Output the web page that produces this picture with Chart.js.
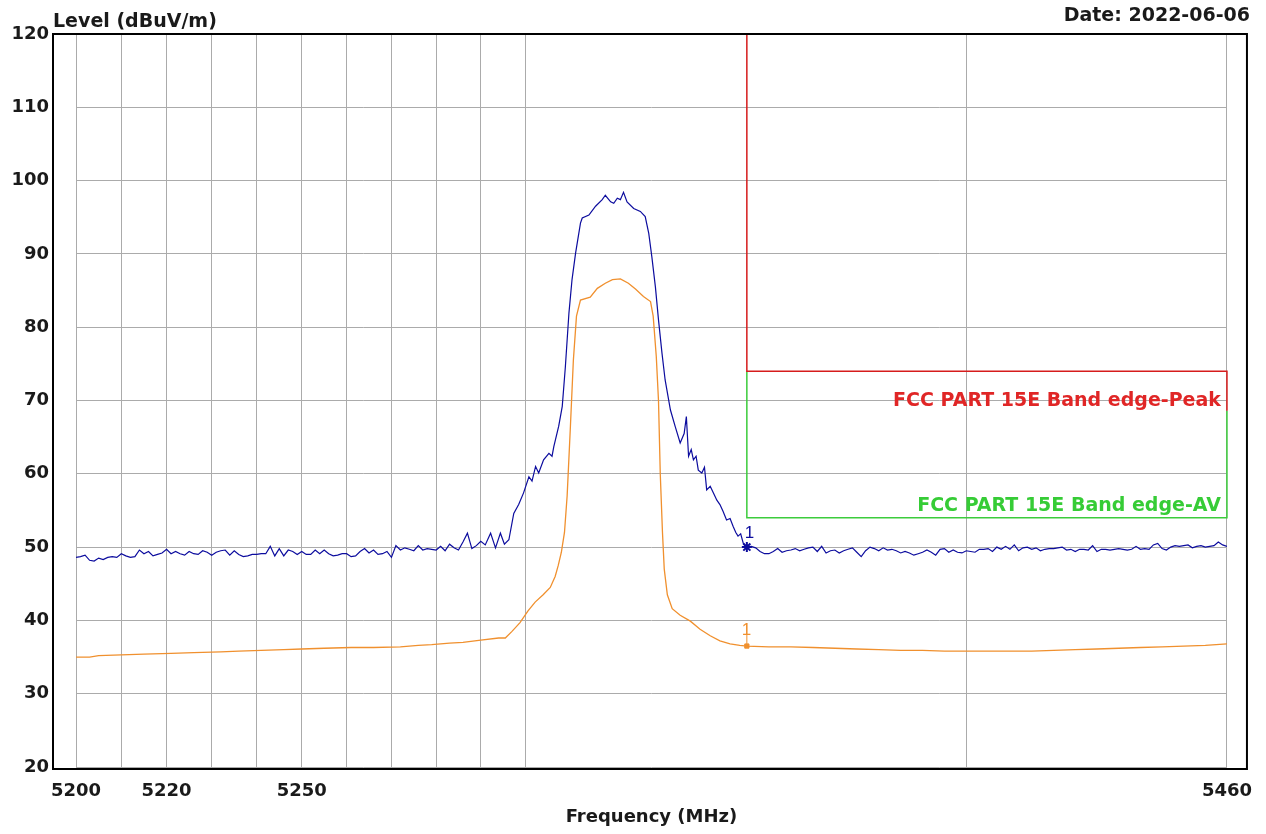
<!DOCTYPE html>
<html>
<head>
<meta charset="utf-8">
<title>Band edge scan</title>
<script src="https://cdn.jsdelivr.net/npm/chart.js@4.4.0/dist/chart.umd.min.js"></script>
<style>
  html, body { margin: 0; padding: 0; background: #fff; }
  #wrap { width: 1266px; height: 834px; }
</style>
</head>
<body>
<div id="wrap"><canvas id="chart"></canvas></div>
<script>
// axis ticks (MHz, log scale) and labels
const xGridTicks = [5200, 5210, 5220, 5230, 5240, 5250, 5260, 5270, 5280, 5290, 5300, 5400, 5460];
const xLabelTicks = [5200, 5220, 5250, 5460];
const yTitle = 'Level (dBuV/m)';
const xTitle = 'Frequency (MHz)';
const dateText = 'Date: 2022-06-06';

// peak detector trace, below the carrier (1 MHz steps)
const lowFreq = [
  5200, 5201, 5202, 5203, 5204, 5205, 5206, 5207, 5208, 5209,
  5210, 5211, 5212, 5213, 5214, 5215, 5216, 5217, 5218, 5219,
  5220, 5221, 5222, 5223, 5224, 5225, 5226, 5227, 5228, 5229,
  5230, 5231, 5232, 5233, 5234, 5235, 5236, 5237, 5238, 5239,
  5240, 5241, 5242, 5243, 5244, 5245, 5246, 5247, 5248, 5249,
  5250, 5251, 5252, 5253, 5254, 5255, 5256, 5257, 5258, 5259,
  5260, 5261, 5262, 5263, 5264, 5265, 5266, 5267, 5268, 5269,
  5270, 5271, 5272, 5273, 5274, 5275, 5276, 5277, 5278, 5279,
  5280, 5281, 5282, 5283, 5284, 5285, 5286, 5287, 5288, 5289
];
const lowPeak = [
  48.6, 48.7, 48.9, 48.2, 48.1, 48.5, 48.3, 48.6, 48.7, 48.6,
  49.1, 48.8, 48.6, 48.7, 49.6, 49.1, 49.4, 48.8, 49.0, 49.2,
  49.7, 49.1, 49.4, 49.1, 48.9, 49.4, 49.1, 49.0, 49.5, 49.3,
  48.9, 49.3, 49.5, 49.6, 48.9, 49.5, 49.0, 48.7, 48.8, 49.0,
  49.0, 49.1, 49.1, 50.1, 48.8, 49.8, 48.8, 49.6, 49.4, 49.0,
  49.4, 49.0, 49.0, 49.6, 49.1, 49.6, 49.1, 48.8, 48.9, 49.1,
  49.1, 48.7, 48.8, 49.4, 49.8, 49.2, 49.6, 49.0, 49.1, 49.4,
  48.6, 50.2, 49.6, 49.9, 49.7, 49.5, 50.2, 49.6, 49.8, 49.7,
  49.6, 50.1, 49.5, 50.4, 49.9, 49.6, 50.7, 51.9, 49.8, 50.2
];

// peak detector trace, over the carrier
const carrierFreq = [
  5290.0, 5291.0, 5292.2, 5293.3, 5294.4, 5295.3, 5296.3, 5297.4, 5298.5, 5299.6,
  5300.8, 5301.5, 5302.3, 5303.0, 5304.1, 5305.3, 5306.0, 5306.4, 5307.5, 5308.3,
  5309.0, 5309.8, 5310.5, 5311.3, 5312.4, 5312.8, 5314.3, 5315.8, 5317.3, 5318.0,
  5319.2, 5319.9, 5320.7, 5321.4, 5322.1, 5322.9, 5324.4, 5325.9, 5327.0, 5327.8,
  5328.5, 5329.3, 5330.0, 5330.8, 5331.5, 5332.7, 5333.8, 5334.9, 5335.8, 5336.3,
  5336.8, 5337.4, 5337.9, 5338.5, 5339.0, 5339.8, 5340.4, 5340.9, 5341.7, 5342.4,
  5343.2, 5343.9, 5344.6, 5345.4, 5346.2, 5346.9, 5347.5, 5348.0, 5348.6, 5349.2,
  5350.0
];
const carrierPeak = [
  50.8, 50.3, 51.9, 49.9, 51.9, 50.4, 51.0, 54.6, 55.8, 57.4,
  59.6, 59.0, 61.0, 60.1, 61.9, 62.8, 62.4, 63.7, 66.5, 69.2,
  74.6, 81.9, 86.5, 90.1, 94.2, 94.9, 95.3, 96.5, 97.4, 98.0,
  97.1, 96.9, 97.6, 97.4, 98.4, 97.1, 96.2, 95.8, 95.1, 92.8,
  89.6, 85.5, 81.0, 76.4, 72.8, 68.7, 66.4, 64.2, 65.5, 67.8,
  62.4, 63.3, 61.9, 62.4, 60.5, 60.1, 60.9, 57.8, 58.3, 57.4,
  56.4, 55.8, 54.9, 53.7, 53.9, 52.8, 52.0, 51.5, 51.8, 50.5,
  50.0
];

// peak detector trace, above the band edge (1 MHz steps)
const highFreq = [
  5351, 5352, 5353, 5354, 5355, 5356, 5357, 5358, 5359, 5360,
  5361, 5362, 5363, 5364, 5365, 5366, 5367, 5368, 5369, 5370,
  5371, 5372, 5373, 5374, 5375, 5376, 5377, 5378, 5379, 5380,
  5381, 5382, 5383, 5384, 5385, 5386, 5387, 5388, 5389, 5390,
  5391, 5392, 5393, 5394, 5395, 5396, 5397, 5398, 5399, 5400,
  5401, 5402, 5403, 5404, 5405, 5406, 5407, 5408, 5409, 5410,
  5411, 5412, 5413, 5414, 5415, 5416, 5417, 5418, 5419, 5420,
  5421, 5422, 5423, 5424, 5425, 5426, 5427, 5428, 5429, 5430,
  5431, 5432, 5433, 5434, 5435, 5436, 5437, 5438, 5439, 5440,
  5441, 5442, 5443, 5444, 5445, 5446, 5447, 5448, 5449, 5450,
  5451, 5452, 5453, 5454, 5455, 5456, 5457, 5458, 5459, 5460
];
const highPeak = [
  50.1, 49.9, 49.4, 49.1, 49.1, 49.4, 49.8, 49.3, 49.5, 49.6,
  49.8, 49.5, 49.7, 49.9, 50.0, 49.4, 50.1, 49.2, 49.5, 49.6,
  49.2, 49.5, 49.7, 49.9, 49.3, 48.7, 49.5, 50.0, 49.8, 49.5,
  49.9, 49.6, 49.7, 49.5, 49.2, 49.4, 49.2, 48.9, 49.1, 49.3,
  49.6, 49.3, 48.9, 49.7, 49.8, 49.3, 49.6, 49.3, 49.2, 49.5,
  49.4, 49.3, 49.7, 49.7, 49.8, 49.4, 50.0, 49.7, 50.1, 49.7,
  50.3, 49.5, 49.9, 50.0, 49.7, 49.9, 49.5, 49.7, 49.8, 49.8,
  49.9, 50.0, 49.6, 49.7, 49.4, 49.7, 49.7, 49.6, 50.2, 49.4,
  49.7, 49.7, 49.6, 49.7, 49.8, 49.7, 49.6, 49.7, 50.1, 49.7,
  49.8, 49.7, 50.3, 50.5, 49.8, 49.6, 50.0, 50.2, 50.1, 50.2,
  50.3, 49.9, 50.1, 50.2, 50.0, 50.1, 50.2, 50.7, 50.3, 50.1
];

// average detector trace
const avgFreq = [
  5200, 5203, 5205, 5210, 5215, 5221, 5226, 5232, 5236, 5241,
  5246, 5250, 5255, 5261, 5266, 5272, 5276, 5279, 5283, 5286,
  5290, 5294, 5295.5, 5297, 5298.8, 5300.6, 5302.2, 5304, 5305.6, 5306.7,
  5307.4, 5308.1, 5308.8, 5309.4, 5310.1, 5310.8, 5311.5, 5312.4, 5314.6, 5316.2,
  5318, 5319.6, 5321.4, 5323.2, 5324.8, 5326.6, 5328.2, 5328.8, 5329.5, 5330.0,
  5330.4, 5330.9, 5331.3, 5332.0, 5333.1, 5334.9, 5337.2, 5339.4, 5341.7, 5343.9,
  5346.2, 5348.4, 5350, 5355, 5360, 5365, 5370, 5375, 5380, 5385,
  5390, 5395, 5400, 5405, 5410, 5415, 5420, 5425, 5430, 5435,
  5440, 5445, 5450, 5455, 5460
];
const avgLevel = [
  35.0, 35.0, 35.2, 35.3, 35.4, 35.5, 35.6, 35.7, 35.8, 35.9,
  36.0, 36.1, 36.2, 36.3, 36.3, 36.4, 36.6, 36.7, 36.9, 37.0,
  37.3, 37.6, 37.6, 38.5, 39.7, 41.3, 42.5, 43.5, 44.5, 46.0,
  47.5, 49.3, 52.0, 57.0, 66.0, 75.5, 81.5, 83.7, 84.1, 85.3,
  86.0, 86.5, 86.6, 86.0, 85.2, 84.2, 83.5, 81.5, 76.0, 70.0,
  60.0, 52.0, 47.0, 43.5, 41.6, 40.7, 39.9, 38.8, 37.9, 37.2,
  36.8, 36.6, 36.5, 36.4, 36.4, 36.3, 36.2, 36.1, 36.0, 35.9,
  35.9, 35.8, 35.8, 35.8, 35.8, 35.8, 35.9, 36.0, 36.1, 36.2,
  36.3, 36.4, 36.5, 36.6, 36.8
];

// limit lines
const limitFreq = [5350, 5350, 5460, 5460];
const peakLimit = [120, 74, 74, 68.6];
const avLimit = [74, 54, 54, 68.6];
const peakLimitName = 'FCC PART 15E Band edge-Peak';
const avLimitName = 'FCC PART 15E Band edge-AV';

// markers
const markerFreq = [5350];
const peakMarker = [50.0];
const avgMarker = [36.5];
const markerName = '1';

const pairs = (xs, ys) => xs.map((f, i) => ({ x: f, y: ys[i] }));

const peakFreq = lowFreq.concat(carrierFreq, highFreq);
const peakLevel = lowPeak.concat(carrierPeak, highPeak);

const BLUE = '#0c0c9e';
const ORANGE = '#f0902e';
const RED = '#d61c1c';
const GREEN = '#3ccc3c';
const tickFont = { family: '"DejaVu Sans"', weight: 'bold', size: 18 };

// frame, headings, limit names and marker numbers
const decorations = {
  id: 'decorations',
  afterDraw(chart) {
    const { ctx, chartArea: a, scales: { x, y } } = chart;
    ctx.save();
    ctx.strokeStyle = '#000';
    ctx.lineWidth = 2;
    ctx.strokeRect(a.left - 23, a.top, a.right - a.left + 43, a.bottom - a.top + 2);

    ctx.fillStyle = '#1a1a1a';
    ctx.font = 'bold 19px "DejaVu Sans"';
    ctx.textAlign = 'left';
    ctx.fillText(yTitle, a.left - 23, 27);
    ctx.textAlign = 'right';
    ctx.fillText(dateText, 1250, 21);

    ctx.font = 'bold 19px "DejaVu Sans"';
    ctx.fillStyle = '#e02626';
    ctx.fillText(peakLimitName, a.right - 6, y.getPixelForValue(peakLimit[1]) + 35);
    ctx.fillStyle = '#36cc36';
    ctx.fillText(avLimitName, a.right - 6, y.getPixelForValue(avLimit[1]) - 7);

    const mx = x.getPixelForValue(markerFreq[0]);
    ctx.font = '17px "Liberation Sans"';
    ctx.textAlign = 'left';
    ctx.fillStyle = BLUE;
    ctx.fillText(markerName, mx - 2, y.getPixelForValue(peakMarker[0]) - 9);
    ctx.fillStyle = ORANGE;
    ctx.fillText(markerName, mx - 5, y.getPixelForValue(avgMarker[0]) - 11);
    ctx.strokeStyle = ORANGE;
    ctx.lineWidth = 1;
    ctx.beginPath();
    ctx.moveTo(mx, y.getPixelForValue(avgMarker[0]) - 12);
    ctx.lineTo(mx, y.getPixelForValue(avgMarker[0]));
    ctx.stroke();
    ctx.restore();
  }
};

new Chart(document.getElementById('chart'), {
  type: 'line',
  data: {
    datasets: [
      {
        data: pairs(markerFreq, peakMarker), showLine: false,
        pointStyle: 'star', pointRadius: 5, borderColor: BLUE, borderWidth: 2, clip: false
      },
      {
        data: pairs(markerFreq, avgMarker), showLine: false,
        pointStyle: 'rect', pointRadius: 3, backgroundColor: ORANGE, borderColor: ORANGE, clip: false
      },
      { data: pairs(peakFreq, peakLevel), borderColor: BLUE, borderWidth: 1.2, pointRadius: 0, tension: 0 },
      { data: pairs(avgFreq, avgLevel), borderColor: ORANGE, borderWidth: 1.3, pointRadius: 0, tension: 0 },
      { data: pairs(limitFreq, peakLimit), borderColor: RED, borderWidth: 1.5, pointRadius: 0, clip: 3 },
      { data: pairs(limitFreq, avLimit), borderColor: GREEN, borderWidth: 1.5, pointRadius: 0, clip: 3 }
    ]
  },
  options: {
    responsive: true,
    maintainAspectRatio: false,
    animation: false,
    layout: { padding: { top: 34, right: 38, left: 0, bottom: 0 } },
    plugins: { legend: { display: false }, tooltip: { enabled: false } },
    scales: {
      x: {
        type: 'logarithmic',
        min: 5200,
        max: 5460,
        afterBuildTicks: s => { s.ticks = xGridTicks.map(v => ({ value: v })); },
        afterFit: s => { s.height = 67; },
        ticks: {
          autoSkip: false, maxRotation: 0, padding: 14, color: '#1a1a1a', font: tickFont,
          callback: v => xLabelTicks.includes(v) ? String(v) : ''
        },
        grid: { color: '#ababab', lineWidth: 1, drawTicks: false },
        border: { display: false },
        title: {
          display: true, text: xTitle, color: '#1a1a1a', font: tickFont,
          padding: { top: 0, bottom: 6 }
        }
      },
      y: {
        min: 20,
        max: 120,
        afterFit: s => { s.width = 76; },
        ticks: {
          stepSize: 10, padding: 27, color: '#1a1a1a',
          font: { family: '"DejaVu Sans"', weight: 'bold', size: 18, lineHeight: 0.7 }
        },
        grid: { color: '#ababab', lineWidth: 1, drawTicks: false },
        border: { display: false }
      }
    }
  },
  plugins: [decorations]
});
</script>
</body>
</html>
